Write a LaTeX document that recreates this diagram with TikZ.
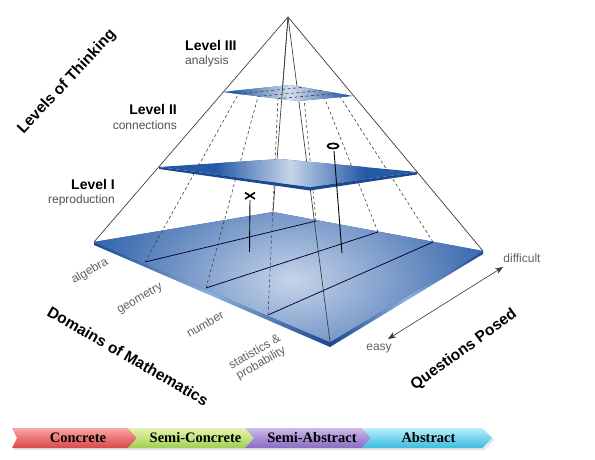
\documentclass[tikz,border=0pt]{standalone}
\usepackage{fontspec}
\setmainfont{Liberation Sans}
\newfontfamily\barfont{Liberation Serif}
\usetikzlibrary{arrows.meta,calc}
\definecolor{bdark}{HTML}{2459A6}
\definecolor{blight}{HTML}{C6D4E9}
\definecolor{bside}{HTML}{1A4890}
\definecolor{bhl}{HTML}{8FB0DE}
\definecolor{bpale}{HTML}{DDE5F1}
\definecolor{redT}{HTML}{F7AAAA}
\definecolor{redM}{HTML}{EC7373}
\definecolor{redB}{HTML}{D64A4A}
\definecolor{grnT}{HTML}{E2F4B0}
\definecolor{grnM}{HTML}{C3E47E}
\definecolor{grnB}{HTML}{9DCF52}
\definecolor{purT}{HTML}{CDBDEA}
\definecolor{purM}{HTML}{A88FD6}
\definecolor{purB}{HTML}{8A6CC2}
\definecolor{cyaT}{HTML}{BDEEFA}
\definecolor{cyaM}{HTML}{76D4EE}
\definecolor{cyaB}{HTML}{3DBCDD}
\begin{document}
\begin{tikzpicture}[x=1pt,y=-1pt,
  edge/.style={draw=black!78, line width=0.65pt},
  gridln/.style={draw=black!80!blue, line width=0.75pt},
  dashln/.style={draw=black!75, line width=0.6pt, dash pattern=on 3pt off 2.5pt},
  lvl/.style={font=\bfseries\fontsize{14}{16}\selectfont, text=black, inner sep=0pt},
  lvlsub/.style={font=\fontsize{12}{14}\selectfont, text=black!68, inner sep=0pt},
  axislbl/.style={font=\bfseries\fontsize{15.5}{18}\selectfont, text=black, inner sep=0pt},
  dom/.style={font=\fontsize{12}{12.5}\selectfont, text=black!62, align=center, inner sep=0pt, rotate=30},
  endlbl/.style={font=\fontsize{12}{14}\selectfont, text=black!62, inner sep=0pt},
  bartext/.style={font=\barfont\bfseries\fontsize{14.5}{16}\selectfont, text=black, inner sep=0pt},
  marker/.style={draw=black, line width=1.7pt}
]
\useasboundingbox[fill=white] (0,0) rectangle (595,460);

% ---------- coordinates ----------
\coordinate (A) at (288,17);
\coordinate (L) at (94,242);
\coordinate (B) at (273,212);
\coordinate (R) at (483,251);
\coordinate (F) at (330,342);
\coordinate (Lb) at (94,245);
\coordinate (Fb) at (330,347);
\coordinate (Rb) at (483,254);
% base grid points
\coordinate (Q1) at (145,262);
\coordinate (Q2) at (206,288);
\coordinate (Q3) at (268,315);
\coordinate (S1) at (316,221);
\coordinate (S2) at (378,232);
\coordinate (S3) at (433,242);
% middle plane
\coordinate (L2) at (159,167);
\coordinate (B2) at (280,159);
\coordinate (R2) at (417,172);
\coordinate (F2) at (310,187);
\coordinate (L2b) at (159,169);
\coordinate (R2b) at (417,174.5);
\coordinate (F2b) at (310,190.5);
% top plane
\coordinate (L3) at (222,92);
\coordinate (B3) at (290,85);
\coordinate (R3) at (353,96);
\coordinate (F3) at (298,101);
\coordinate (Q1t) at (238.4,93.9);
\coordinate (Q2t) at (258.1,96.3);
\coordinate (Q3t) at (278,98.6);
\coordinate (S1t) at (302.9,87.3);
\coordinate (S2t) at (321.5,90.5);
\coordinate (S3t) at (338,93.4);

% ---------- base slab ----------
\shade[left color=bside, right color=bside, middle color=bhl] (L)--(F)--(Fb)--(Lb)--cycle;
\shade[left color=bside, right color=bside, middle color=bhl] (F)--(R)--(Rb)--(Fb)--cycle;
\begin{scope}
  \clip (L)--(B)--(R)--(F)--cycle;
  \fill[bdark] (L)--(B)--(R)--(F)--cycle;
  \shade[inner color=blight, outer color=bdark] (292,280) ellipse (225 and 135);
\end{scope}

% base grid lines
\draw[gridln] (Q1)--(S1);
\draw[gridln] (Q2)--(S2);
\draw[gridln] (Q3)--(S3);

% dashed lines towards the apex
\foreach \p in {1,2,3} {
  \draw[dashln] (Q\p)--(Q\p t);
  \draw[dashln] (S\p)--(S\p t);
}

% inner pyramid edges
\draw[edge] (A)--(B);
\draw[edge] (A)--(F);

% x marker line
\draw[line width=0.9pt] (250,200)--(249.5,252);

% ---------- middle plane ----------
\fill[bside] (L2)--(F2)--(R2)--(R2b)--(F2b)--(L2b)--cycle;
\begin{scope}
  \clip (L2)--(B2)--(R2)--(F2)--cycle;
  \fill[bdark] (L2)--(B2)--(R2)--(F2)--cycle;
  \shade[left color=bdark, right color=bdark, middle color=blight] (215,150) rectangle (365,195);
\end{scope}

% ---------- top plane ----------
\begin{scope}
  \clip (L3)--(B3)--(R3)--(F3)--cycle;
  \fill[bdark] (L3)--(B3)--(R3)--(F3)--cycle;
  \shade[left color=bdark, right color=bdark, middle color=bpale, opacity=0.95] (232,80) rectangle (348,105);
\end{scope}
\draw[dashln] (Q1t)--(S1t);
\draw[dashln] (Q2t)--(S2t);
\draw[dashln] (Q3t)--(S3t);
\draw[edge] (A)--($(A)!0.42!(B)$);

% outer pyramid edges
\draw[edge] (A)--(L);
\draw[edge] (A)--(R);

% o marker and its line
\draw[line width=0.9pt] (334,151)--(342,253);
\draw[marker, fill=white] (333,146) ellipse (5.5 and 2.6);
% x marker
\draw[marker, line width=1.6pt] (245,192.5)--(255,199) (245,199)--(255,192.5);

% ---------- level labels ----------
\node[lvl, anchor=west] (l3) at (185,45) {Level III};
\node[lvlsub, anchor=west] (l3s) at (185,61.5) {analysis};
\node[lvl, anchor=east] (l2) at (177,109) {Level II};
\node[lvlsub, anchor=east] (l2s) at (177,125) {connections};
\node[lvl, anchor=east] (l1) at (115,184) {Level I};
\node[lvlsub, anchor=east] (l1s) at (115,200) {reproduction};

% axis titles
\node[axislbl, rotate=47] (lot) at (67,82) {Levels of Thinking};
\node[axislbl, rotate=-30] (dom) at (128,356) {Domains of Mathematics};
\node[axislbl, rotate=36] (qp) at (464,350) {Questions Posed};

% domain labels
\node[dom] (d1) at (90,271) {algebra};
\node[dom] (d2) at (140,299) {geometry};
\node[dom] (d3) at (205,324) {number};
\node[dom] (d4) at (258,358) {statistics \&\\probability};

% difficulty arrow
\node[endlbl] (easy) at (379,349) {easy};
\node[endlbl] (diff) at (522,258) {difficult};
\coordinate (qe) at (388,339);
\coordinate (qd) at (503,267);
\draw[black!80, line width=0.6pt, {Stealth[length=8pt,width=6pt]}-{Stealth[length=8pt,width=6pt]}] (qe)--(qd);

% ---------- bottom chevron bar ----------
\fill[black!10] (14,430)--(130,430)--(139,440)--(130,450)--(14,450)--(19,440)--cycle;
\fill[black!10] (130,430)--(247,430)--(256,440)--(247,450)--(130,450)--(139,440)--cycle;
\fill[black!10] (247,430)--(364,430)--(373,440)--(364,450)--(247,450)--(256,440)--cycle;
\fill[black!10] (364,430)--(484,430)--(494,440)--(484,450)--(364,450)--(373,440)--cycle;
\shade[top color=redT, bottom color=redB, middle color=redM] (12,428)--(128,428)--(137,438)--(128,448)--(12,448)--(17,438)--cycle;
\shade[top color=grnT, bottom color=grnB, middle color=grnM] (128,428)--(245,428)--(254,438)--(245,448)--(128,448)--(137,438)--cycle;
\shade[top color=purT, bottom color=purB, middle color=purM] (245,428)--(362,428)--(371,438)--(362,448)--(245,448)--(254,438)--cycle;
\shade[top color=cyaT, bottom color=cyaB, middle color=cyaM] (362,428)--(482,428)--(492,438)--(482,448)--(362,448)--(371,438)--cycle;
\node[bartext] (c1) at (78,438) {Concrete};
\node[bartext] (c2) at (195.5,438) {Semi-Concrete};
\node[bartext] (c3) at (312,438) {Semi-Abstract};
\node[bartext] (c4) at (428.5,438) {Abstract};
\end{tikzpicture}
\end{document}
